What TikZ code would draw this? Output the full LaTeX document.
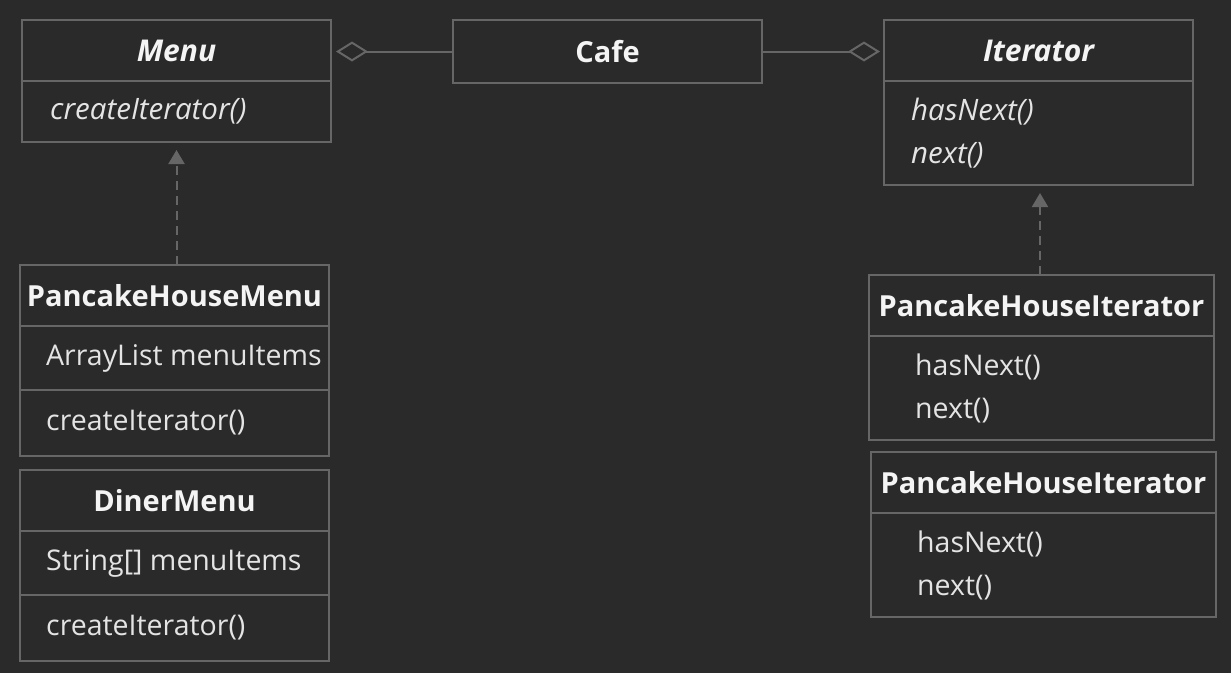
\documentclass[tikz,border=0pt]{standalone}
\usepackage{fontspec}
\setmainfont{Open Sans}
\usetikzlibrary{positioning,arrows.meta}

\definecolor{bg}{HTML}{2A2A2A}
\definecolor{edge}{HTML}{666666}
\definecolor{ink}{HTML}{F4F4F4}
\definecolor{soft}{HTML}{E4E4E4}

\tikzset{
  cell/.style={draw=edge, line width=2pt, minimum width=309pt, inner sep=0pt, outer sep=0pt, text=ink},
  head/.style={cell, minimum height=61pt, font=\fontsize{29}{34}\selectfont\bfseries},
  abstracthead/.style={font=\fontsize{30}{34}\selectfont\bfseries\itshape},
  member/.style={anchor=west, inner sep=0pt, text=soft, align=left, font=\fontsize{28.5}{43}\selectfont},
  abstract/.style={font=\fontsize{29.5}{43}\selectfont\itshape},
  realize/.style={draw=edge, line width=2pt, dash pattern=on 9pt off 6pt, -{Triangle[width=16pt,length=14pt,fill=edge]}},
  aggr/.style={draw=edge, line width=2pt, -{Diamond[open,width=20pt,length=32pt]}}
}

\begin{document}
\begin{tikzpicture}[x=1pt, y=-1pt]
  \fill[bg] (0,0) rectangle (1231,673);
  \useasboundingbox (0,0) rectangle (1231,673);

  % interface Menu
  \node[head, abstracthead, anchor=north] (menu) at (176.5,20) {Menu};
  \node[cell, minimum height=61pt, below=0pt of menu] (menuops) {};
  \node[member, abstract] (menucreate) at ([xshift=28pt]menuops.west) {createIterator()};

  % client
  \node[head, anchor=north, minimum height=63pt] (cafe) at (607.5,20) {Cafe};

  % interface Iterator
  \node[head, abstracthead, anchor=north] (iter) at (1038.5,20) {Iterator};
  \node[cell, minimum height=104pt, below=0pt of iter] (iterops) {};
  \node[member, abstract] (iternext) at ([xshift=27pt]iterops.west) {hasNext()\\next()};

  % concrete menus
  \node[head, anchor=north] (phm) at (174.5,265) {PancakeHouseMenu};
  \node[cell, minimum height=64pt, below=0pt of phm] (phmfields) {};
  \node[cell, minimum height=66pt, below=0pt of phmfields] (phmops) {};
  \node[member] (phmlist) at ([xshift=26pt]phmfields.west) {ArrayList menuItems};
  \node[member] (phmcreate) at ([xshift=26pt]phmops.west) {createIterator()};

  \node[head, anchor=north] (diner) at (174.5,470) {DinerMenu};
  \node[cell, minimum height=64pt, below=0pt of diner] (dinerfields) {};
  \node[cell, minimum height=66pt, below=0pt of dinerfields] (dinerops) {};
  \node[member] (dinerarray) at ([xshift=26pt]dinerfields.west) {String[] menuItems};
  \node[member] (dinercreate) at ([xshift=26pt]dinerops.west) {createIterator()};

  % concrete iterators
  \node[head, anchor=north, minimum width=345pt] (phi) at (1041.5,275) {PancakeHouseIterator};
  \node[cell, minimum width=345pt, minimum height=104pt, below=0pt of phi] (phiops) {};
  \node[member] (phinext) at ([xshift=46pt]phiops.west) {hasNext()\\next()};

  \node[head, anchor=north, minimum width=345pt] (phitwo) at (1043.5,452) {PancakeHouseIterator};
  \node[cell, minimum width=345pt, minimum height=104pt, below=0pt of phitwo] (phitwoops) {};
  \node[member] (phitwonext) at ([xshift=46pt]phitwoops.west) {hasNext()\\next()};

  % relations
  \draw[aggr] (cafe.west) -- ([xshift=5pt]cafe.west -| menu.east);
  \draw[aggr] (cafe.east) -- ([xshift=-4pt]cafe.east -| iter.west);
  \draw[realize] (menuops.south |- phm.north) -- ([yshift=-8pt]menuops.south);
  \draw[realize] ([xshift=1.5pt]iterops.south |- phi.north) -- ([xshift=1.5pt,yshift=-8pt]iterops.south);
\end{tikzpicture}
\end{document}
